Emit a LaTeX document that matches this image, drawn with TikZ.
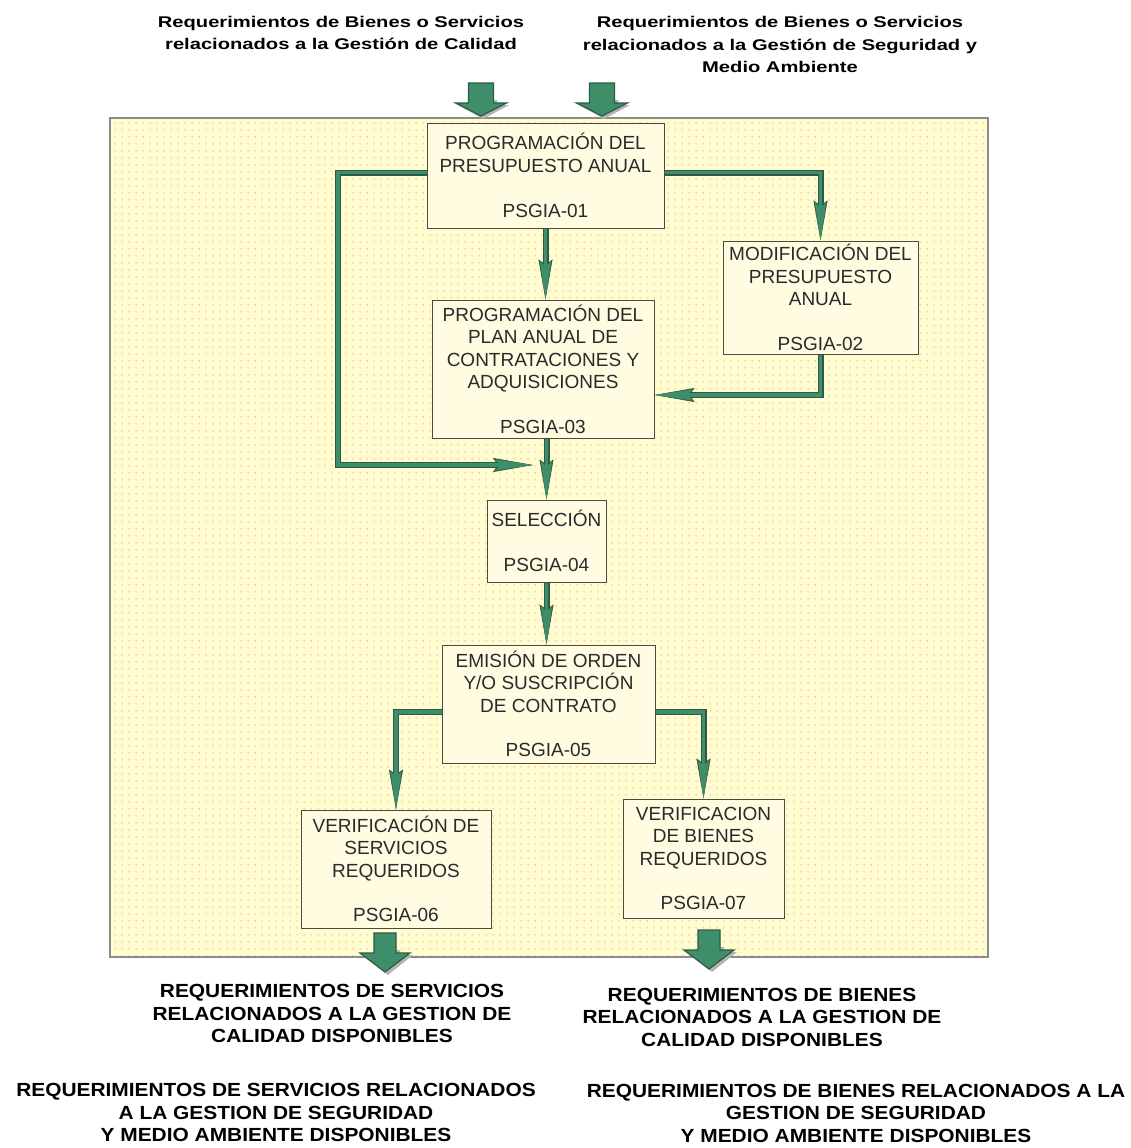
\documentclass[tikz,border=0pt]{standalone}
\usepackage{fontspec}
\setmainfont{Liberation Sans}
\newfontfamily\widefont[FakeStretch=1.1]{Liberation Sans}
\newfontfamily\topfont[FakeStretch=1.3]{Liberation Sans}
\usetikzlibrary{arrows.meta,patterns.meta,calc}
\definecolor{panelfill}{HTML}{FFFCCF}
\definecolor{dotcol}{HTML}{F3C4A2}
\definecolor{boxfill}{HTML}{FFFCE2}
\definecolor{boxline}{HTML}{4A4A40}
\definecolor{boxtext}{HTML}{2A2A2A}
\definecolor{arrowgreen}{HTML}{3E8E69}
\definecolor{arrowdark}{HTML}{2C5A46}
\definecolor{panelline}{HTML}{8C8C8C}
\definecolor{shadowgray}{HTML}{B4B4B4}
\tikzdeclarepattern{
  name=paneldots,
  type=uncolored,
  bounding box={(0,0) and (7pt,7pt)},
  tile size={(7pt,7pt)},
  code={\fill (3.5pt,3.5pt) circle (1pt);}
}
\tikzset{
  box/.style={draw=boxline, line width=1pt, fill=boxfill, align=center,
    inner sep=0pt, text=boxtext, font=\fontsize{19}{22.5}\selectfont},
  conn/.style={draw=arrowgreen, line width=3.6pt,
    -{Stealth[length=38pt,width=11pt,inset=5pt,line width=0.6pt]},
    preaction={draw=arrowdark, line width=6pt,
      -{Stealth[length=40pt,width=14pt,inset=5pt,line width=0.6pt]}}},
  toplabel/.style={align=center, inner sep=0pt, text=black,
    font=\topfont\bfseries\fontsize{15.5}{22.5}\selectfont},
  botlabel/.style={align=center, inner sep=0pt, text=black,
    font=\widefont\bfseries\fontsize{19}{22.5}\selectfont},
  inarrow/.pic={
    \fill[shadowgray] (-10,17) -- (-10,22) -- (-23,22) -- (2,36) -- (28,22) -- (16,22) -- (16,17) -- cycle;
    \draw[fill=arrowgreen, draw=arrowdark, line width=1.2pt, line join=miter]
      (-12.5,0) -- (12.5,0) -- (12.5,20) -- (25.5,20) -- (0,33) -- (-25.5,20) -- (-12.5,20) -- cycle;
  },
  outarrow/.pic={
    \fill[shadowgray] (-9,17) -- (-9,22) -- (-22,22) -- (3,42) -- (28,22) -- (15,22) -- (15,17) -- cycle;
    \draw[fill=arrowgreen, draw=arrowdark, line width=1.2pt, line join=miter]
      (-11,0) -- (11,0) -- (11,20) -- (25,20) -- (0,39) -- (-25,20) -- (-11,20) -- cycle;
  }
}
\begin{document}
\begin{tikzpicture}[x=1pt,y=-1pt]
\useasboundingbox (0,0) rectangle (1130,1148);
\fill[white] (0,0) rectangle (1130,1148);

% panel
\path[fill=panelfill] (110,118) rectangle (988,957);
\path[pattern=paneldots, pattern color=dotcol] (110,118) rectangle (988,957);
\draw[panelline, line width=1.5pt] (110,118) rectangle (988,957);

% input labels and arrows
\node[toplabel] (inq) at (341,33) {Requerimientos de Bienes o Servicios\\relacionados a la Gestión de Calidad};
\node[toplabel] (ins) at (780,44.5) {Requerimientos de Bienes o Servicios\\relacionados a la Gestión de Seguridad y\\Medio Ambiente};
\path (481,83) pic {inarrow};
\path (602,83) pic {inarrow};

% boxes
\node[box, minimum width=237pt, minimum height=105pt] (b1) at (545.5,175.5)
  {PROGRAMACIÓN DEL\\PRESUPUESTO ANUAL\\[22.5pt]PSGIA-01};
\node[box, minimum width=195pt, minimum height=113pt] (b2) at (820.5,297.5)
  {MODIFICACIÓN DEL\\PRESUPUESTO\\ANUAL\\[22pt]PSGIA-02};
\node[box, minimum width=222pt, minimum height=138pt] (b3) at (543,369)
  {PROGRAMACIÓN DEL\\PLAN ANUAL DE\\CONTRATACIONES Y\\ADQUISICIONES\\[22pt]PSGIA-03};
\node[box, minimum width=119pt, minimum height=82pt] (b4) at (546.5,541)
  {SELECCIÓN\\[22pt]PSGIA-04};
\node[box, minimum width=213pt, minimum height=118pt] (b5) at (548.5,704)
  {EMISIÓN DE ORDEN\\Y/O SUSCRIPCIÓN\\DE CONTRATO\\[22pt]PSGIA-05};
\node[box, minimum width=190pt, minimum height=118pt] (b6) at (396,869)
  {VERIFICACIÓN DE\\SERVICIOS\\REQUERIDOS\\[22pt]PSGIA-06};
\node[box, minimum width=161pt, minimum height=119pt] (b7) at (703.5,858.5)
  {VERIFICACION\\DE BIENES\\REQUERIDOS\\[22pt]PSGIA-07};

% connectors
\coordinate (lc) at (338,465);
\coordinate (j) at (533,465);
\draw[conn] ([yshift=3pt]b1.east) -| (b2.north);
\draw[conn] (b1.south) -- (b1.south |- b3.north);
\draw[conn] (b2.south) |- ([yshift=-26pt]b3.east);
\draw[conn] ([yshift=3pt]b1.west) -| (lc) -- (j);
\draw[conn] (b4.north |- b3.south) -- (b4.north);
\draw[conn] (b4.south) -- (b4.south |- b5.north);
\draw[conn] ([yshift=-8pt]b5.west) -| (b6.north);
\draw[conn] ([yshift=-8pt]b5.east) -| (b7.north);

% output arrows
\path (385,933) pic {outarrow};
\path (709,930) pic {outarrow};

% output labels
\node[botlabel] (outsq) at (332,1013.5) {REQUERIMIENTOS DE SERVICIOS\\RELACIONADOS A LA GESTION DE\\CALIDAD DISPONIBLES};
\node[botlabel] (outbq) at (762,1017) {REQUERIMIENTOS DE BIENES\\RELACIONADOS A LA GESTION DE\\CALIDAD DISPONIBLES};
\node[botlabel] (outss) at (276,1112.5) {REQUERIMIENTOS DE SERVICIOS RELACIONADOS\\A LA GESTION DE SEGURIDAD\\Y MEDIO AMBIENTE DISPONIBLES};
\node[botlabel] (outbs) at (856,1113) {REQUERIMIENTOS DE BIENES RELACIONADOS A LA\\GESTION DE SEGURIDAD\\Y MEDIO AMBIENTE DISPONIBLES};
\end{tikzpicture}
\end{document}
